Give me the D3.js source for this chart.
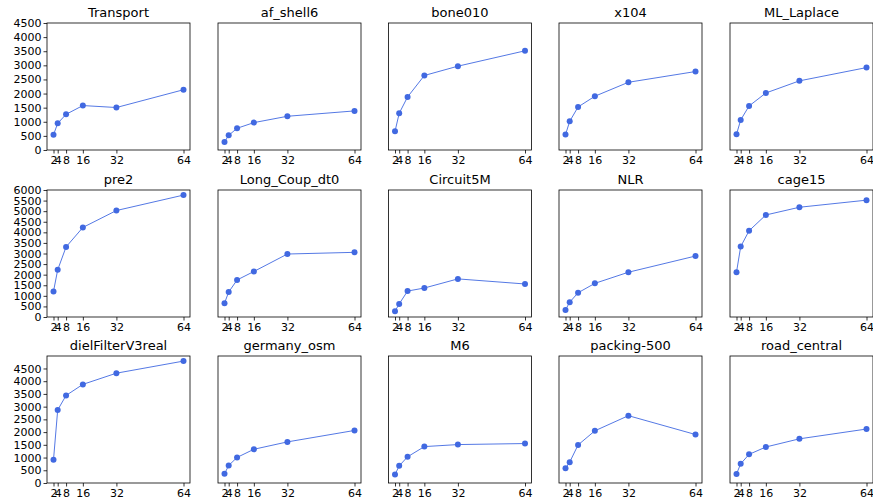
<!DOCTYPE html>
<html>
<head>
<meta charset="utf-8">
<script src="https://cdn.jsdelivr.net/npm/d3@7"></script>
<style>
  body { margin: 0; background: #fff; }
  text { font-family: "DejaVu Sans", sans-serif; fill: #000; }
</style>
</head>
<body>
<svg id="chart" width="873" height="504"></svg>
<script>
// x values (threads) and tick labels
var threads = [2, 4, 8, 16, 32, 64];

var titles = ["Transport", "af_shell6", "bone010", "x104", "ML_Laplace",
    "pre2", "Long_Coup_dt0", "Circuit5M", "NLR", "cage15",
    "dielFilterV3real", "germany_osm", "M6", "packing-500", "road_central"];

// values, one array per panel
var transport   = [540, 945, 1265, 1575, 1505, 2135];
var af_shell6   = [285, 520, 770, 970, 1195, 1385];
var bone010     = [660, 1300, 1880, 2640, 2970, 3515];
var x104        = [545, 1015, 1525, 1905, 2400, 2780];
var ml_laplace  = [555, 1065, 1560, 2020, 2450, 2920];
var pre2        = [1210, 2230, 3310, 4230, 5030, 5760];
var long_coup   = [655, 1180, 1750, 2150, 2975, 3055];
var circuit5m   = [270, 620, 1225, 1370, 1800, 1560];
var nlr         = [335, 700, 1145, 1590, 2115, 2880];
var cage15      = [2120, 3325, 4075, 4820, 5185, 5520];
var dielfilter  = [915, 2870, 3440, 3875, 4315, 4790];
var germany_osm = [360, 690, 1005, 1325, 1615, 2065];
var m6          = [330, 675, 1030, 1430, 1510, 1550];
var packing500  = [580, 820, 1495, 2050, 2645, 1905];
var road_central= [355, 755, 1125, 1415, 1735, 2120];

var series = [transport, af_shell6, bone010, x104, ml_laplace,
    pre2, long_coup, circuit5m, nlr, cage15,
    dielfilter, germany_osm, m6, packing500, road_central];

// y range / ticks per row (shared across a row)
var rowMax = [4500, 6000, 4990];
var rowTicks = [d3.range(0, 4501, 500), d3.range(0, 6001, 500), d3.range(0, 4501, 500)];

var colLeft = [47, 218, 388.5, 559, 730],
    rowTop = [23, 190, 356],
    pw = 143,
    ph = 127;

var color = "#4169e1";
var svg = d3.select("#chart");

series.forEach(function(vals, i) {
    var r = Math.floor(i / 5), c = i % 5;

    var g = svg.append("g")
        .attr("transform", "translate(" + colLeft[c] + "," + rowTop[r] + ")");

    // matplotlib-ish 5% margin on x
    var xScale = d3.scaleLinear().domain([2 - 3.1, 64 + 3.1]).range([0, pw]);
    var yScale = d3.scaleLinear().domain([0, rowMax[r]]).range([ph, 0]);

    var xAxis = g.append("g")
        .attr("transform", "translate(0," + ph + ")")
        .call(d3.axisBottom(xScale).tickValues(threads).tickSize(3.5).tickPadding(2.5).tickFormat(d3.format("d")));
    xAxis.select(".domain").remove();
    xAxis.selectAll("line").attr("stroke", "#000").attr("stroke-width", 0.8);
    xAxis.selectAll("text").style("font-size", "11px");

    var yAxis = g.append("g")
        .call(d3.axisLeft(yScale).tickValues(rowTicks[r]).tickSize(3.5).tickPadding(2)
            .tickFormat(c === 0 ? d3.format("d") : ""));
    yAxis.select(".domain").remove();
    yAxis.selectAll("line").attr("stroke", "#000").attr("stroke-width", 0.8);
    yAxis.selectAll("text").style("font-size", "11px");
    if (c !== 0) yAxis.selectAll("line").remove();

    // frame
    g.append("rect")
        .attr("width", pw)
        .attr("height", ph)
        .attr("fill", "none")
        .attr("stroke", "#000")
        .attr("stroke-width", 0.8);

    var line = d3.line()
        .x(function(d, k) { return xScale(threads[k]); })
        .y(function(d) { return yScale(d); });

    g.append("path")
        .datum(vals)
        .attr("fill", "none")
        .attr("stroke", color)
        .attr("stroke-width", 0.9)
        .attr("d", line);

    g.selectAll(".dot")
        .data(vals)
        .enter()
        .append("circle")
        .attr("class", "dot")
        .attr("cx", function(d, k) { return xScale(threads[k]); })
        .attr("cy", function(d) { return yScale(d); })
        .attr("r", 3)
        .attr("fill", color);

    g.append("text")
        .attr("x", pw / 2)
        .attr("y", -6.5)
        .attr("text-anchor", "middle")
        .style("font-size", "13px")
        .text(titles[i]);
});
</script>
</body>
</html>
